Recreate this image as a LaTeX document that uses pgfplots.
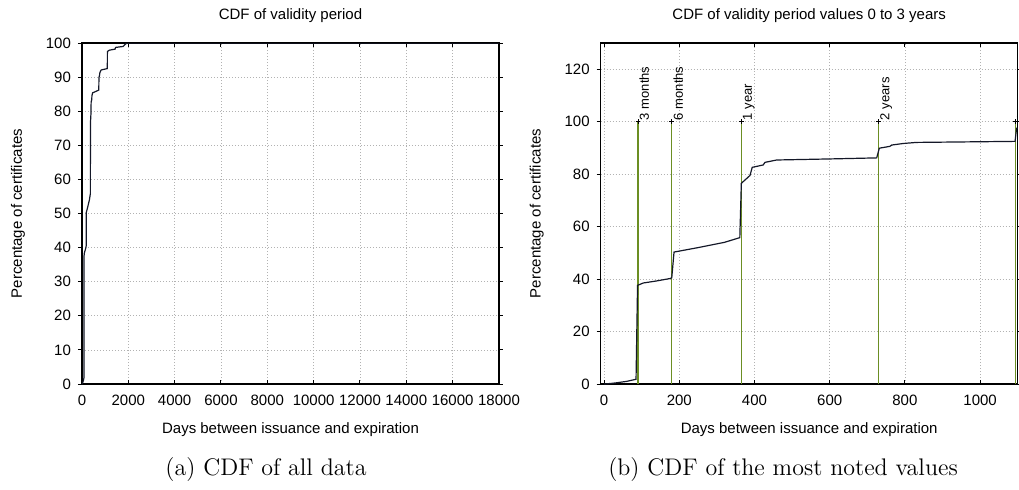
\documentclass[border=0pt]{standalone}
\usepackage{fontspec}
\usepackage{pgfplots}
\usepackage{pgfplotstable}
\pgfplotsset{compat=1.18}
\newfontfamily\plotfont{Liberation Sans}
\definecolor{curve}{RGB}{20,24,40}
\definecolor{mkgreen}{RGB}{107,142,35}

% days, percentage of certificates (CDF)
\pgfplotstableread{
d p
0 0
3 0
30 0.4
60 1.0
85 1.8
89 37.6
104 38.5
140 39.3
175 40.2
180 40.5
186 50.3
250 52.0
320 54.0
361 55.8
365 76.5
388 79.5
394 82.6
423 83.5
428 84.5
459 85.4
600 85.8
725 86.2
732 89.9
760 90.6
765 91.1
796 91.7
831 92.1
1093 92.5
1097 97.5
1180 97.9
1430 98.2
1450 98.7
1780 99.0
1860 99.6
1950 100
18000 100
}\cdf

\pgfplotsset{
  cdfaxis/.style={
    scale only axis,
    anchor=south west,
    width=208.5pt, height=170.5pt,
    axis line style={black, line width=0.7pt},
    font=\plotfont\fontsize{7.5}{9}\selectfont,
    tick label style={font=\plotfont\fontsize{7.5}{9}\selectfont},
    /pgf/number format/assume math mode=true,
    /pgf/number format/set thousands separator={},
    scaled x ticks=false,
    grid=major,
    major grid style={gray!60, line width=0.4pt, dash pattern=on 0.6pt off 0.9pt},
    xtick align=inside,
    ytick align=outside,
    major tick length=2pt,
    tick style={black, line width=0.5pt},
    title style={at={(0.5,1)}, anchor=center, yshift=7.5pt},
    xlabel style={at={(axis description cs:0.5,0)}, anchor=center, yshift=-23pt},
    ylabel style={at={(axis description cs:0,0.5)}, anchor=center, yshift=32pt},
    xticklabel style={yshift=-2pt},
    xlabel={Days between issuance and expiration},
    ylabel={Percentage of certificates},
  },
}

\begin{document}
\begin{tikzpicture}
\useasboundingbox (0,0) rectangle (509.5pt,244.5pt);

\begin{axis}[cdfaxis,
  at={(41pt,52.5pt)},
  title={CDF of validity period},
  xmin=0, xmax=18000, ymin=0, ymax=100,
  xtick={0,2000,...,18000},
  ytick={0,10,...,100},
]
\addplot[curve, line width=0.6pt] table[x=d, y=p] {\cdf};
\end{axis}

\begin{axis}[cdfaxis,
  at={(300.35pt,52.5pt)},
  title={CDF of validity period values 0 to 3 years},
  xmin=-9, xmax=1100, ymin=0, ymax=130,
  xtick={0,200,...,1000},
  ytick={0,20,...,120},
]
\addplot[mkgreen, line width=0.6pt] coordinates {(90,0) (90,100)};
\addplot[mkgreen, line width=0.6pt] coordinates {(180,0) (180,100)};
\addplot[mkgreen, line width=0.6pt] coordinates {(365,0) (365,100)};
\addplot[mkgreen, line width=0.6pt] coordinates {(730,0) (730,100)};
\addplot[mkgreen, line width=0.6pt] coordinates {(1094,0) (1094,100)};
\addplot[only marks, mark=+, mark size=1.2pt, black, mark options={line width=0.4pt}]
  coordinates {(90,100) (180,100) (365,100) (730,100) (1094,100)};
\addplot[curve, line width=0.6pt] table[x=d, y=p] {\cdf};
\begin{scope}[every node/.style={rotate=90, anchor=north west, inner sep=0.6pt,
    font=\plotfont\fontsize{6.5}{8}\selectfont}]
\node at (axis cs:90,100) {3 months};
\node at (axis cs:180,100) {6 months};
\node at (axis cs:365,100) {1 year};
\node at (axis cs:730,100) {2 years};
\node at (axis cs:1094,100) {3 years};
\end{scope}
\end{axis}

\node[font=\fontsize{12}{14}\selectfont] at (133pt,9.5pt) {(a) CDF of all data};
\node[font=\fontsize{12}{14}\selectfont] at (391.5pt,9.5pt) {(b) CDF of the most noted values};
\end{tikzpicture}
\end{document}
